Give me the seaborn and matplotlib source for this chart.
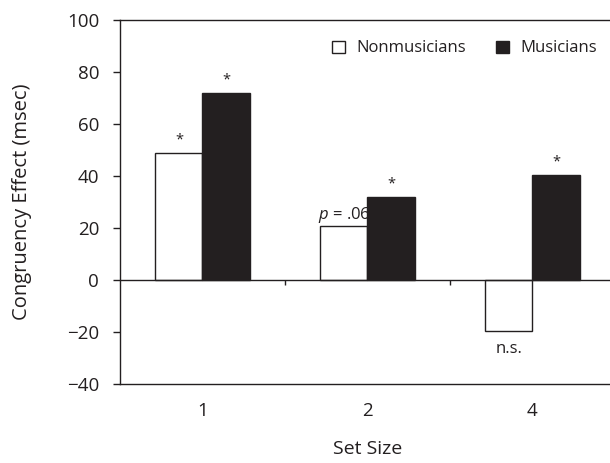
import matplotlib
matplotlib.use("Agg")
import matplotlib.pyplot as plt
import seaborn as sns
import pandas as pd

set_sizes = ["1", "2", "4"]
groups = ["Nonmusicians", "Musicians"]
nonmusicians = [48.7, 20.8, -19.7]
musicians = [72.0, 32.0, 40.2]
nonmus_notes = ["*", "$\\it{p}$ = .06", "n.s."]
mus_notes = ["*", "*", "*"]
y_ticks = [-40, -20, 0, 20, 40, 60, 80, 100]
y_tick_labels = ["\u221240", "\u221220", "0", "20", "40", "60", "80", "100"]

sns.set_theme(style="white")
plt.rcParams['font.family'] = ['Open Sans', 'DejaVu Sans']
plt.rcParams['mathtext.fontset'] = 'custom'
plt.rcParams['mathtext.it'] = 'Open Sans:italic'
plt.rcParams['mathtext.rm'] = 'Open Sans'

ink = "#231f20"
df = pd.DataFrame({
    "Set Size": set_sizes * 2,
    "Group": [groups[0]] * 3 + [groups[1]] * 3,
    "Effect": nonmusicians + musicians,
})

fig = plt.figure(figsize=(6.10, 4.63), dpi=100)
ax = fig.add_axes([120 / 610, 1 - 384 / 463, 495 / 610, (384 - 20) / 463])
sns.barplot(data=df, x="Set Size", y="Effect", hue="Group", order=set_sizes,
            hue_order=groups, palette={groups[0]: "white", groups[1]: ink},
            edgecolor=ink, linewidth=1.0, width=0.57, ax=ax, errorbar=None,
            saturation=1)

ax.set_xlim(-0.5, 2.5)
ax.set_ylim(-40, 100)
ax.set_yticks(y_ticks)
ax.set_yticklabels(y_tick_labels)
ax.axhline(0, color=ink, lw=1.0, zorder=1)
ax.vlines([0.5, 1.5], -1.8, 0, color=ink, lw=1.0)

for side in ["left", "top", "bottom"]:
    ax.spines[side].set_color(ink)
    ax.spines[side].set_linewidth(1.0)
ax.spines["right"].set_visible(False)
ax.tick_params(axis="y", direction="out", length=5, width=1, color=ink,
               labelsize=13.5, labelcolor=ink, left=True, pad=10)
ax.tick_params(axis="x", length=0, labelsize=13.5, labelcolor=ink, pad=13)

ax.set_ylabel("Congruency Effect (msec)", fontsize=14.5, color=ink, labelpad=25)
ax.set_xlabel("Set Size", fontsize=14, color=ink, labelpad=14)

# annotations
for container, notes in zip(ax.containers, [nonmus_notes, mus_notes]):
    for bar, note in zip(container, notes):
        cx = bar.get_x() + bar.get_width() / 2
        h = bar.get_height()
        if h >= 0:
            star = note == "*"
            ax.annotate(note, (cx, h), xytext=(0, 4 if star else 1),
                        textcoords="offset points", ha="center", va="bottom",
                        fontsize=10.5 if star else 12, color=ink)
        else:
            ax.annotate(note, (cx, h), xytext=(0, -7), textcoords="offset points",
                        ha="center", va="top", fontsize=12, color=ink)

leg = ax.legend(loc="upper right", bbox_to_anchor=((612 - 120) / 495, 0.985), ncol=2,
                frameon=False, fontsize=12, handlelength=0.75, handleheight=0.75,
                columnspacing=1.8, handletextpad=0.7)
for t in leg.get_texts():
    t.set_color(ink)
for h in leg.legend_handles:
    h.set_edgecolor(ink)
    h.set_linewidth(1.0)

fig.savefig("out.png", dpi=100)
